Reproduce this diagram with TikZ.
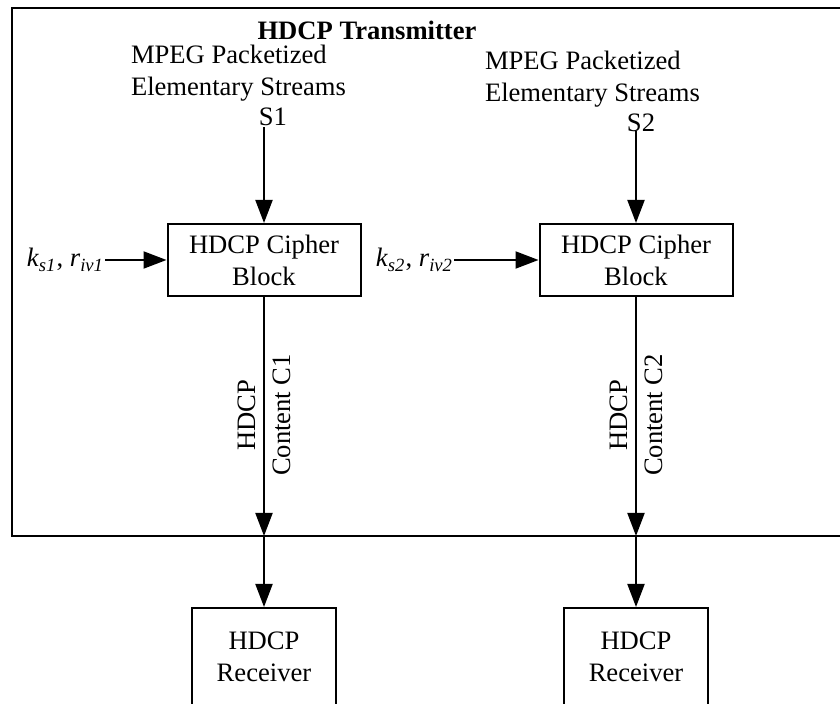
\documentclass[tikz,border=0pt]{standalone}
\usepackage{fontspec}
\setmainfont{Liberation Serif}
\usetikzlibrary{arrows.meta}
\begin{document}
\begin{tikzpicture}[>={Triangle[length=11.5pt,width=8.5pt]},x=0.5pt,y=-0.5pt,line width=1pt,
    every node/.style={font=\fontsize{13.3}{16}\selectfont,inner sep=0pt},
    cipherbox/.style={draw,align=center,minimum width=96.5pt,minimum height=36pt},
    rxbox/.style={draw,align=center,minimum width=72pt,minimum height=49pt},
    vlabel/.style={rotate=90,align=center,font=\fontsize{13.3}{17.5}\selectfont}]
    \useasboundingbox (0,0) rectangle (840,704);
    % transmitter frame, open to the right
    \draw (850,8) -- (12,8) -- (12,536) -- (850,536);
    \node[anchor=base,font=\fontsize{13.3}{16}\selectfont\bfseries] (title) at (367,40) {HDCP Transmitter};
    % stream 1
    \node[anchor=north west,align=left] (src1) at (130,44) {MPEG Packetized\\Elementary Streams};
    \node[anchor=base] (s1) at (273,126) {S1};
    \node[cipherbox] (cipher1) at (264,260) {HDCP Cipher\\Block};
    \node[anchor=east] (key1) at (105,260) {\textit{k}\textsubscript{\textit{s1}}, \textit{r}\textsubscript{\textit{iv1}}};
    \coordinate (exit1) at (264,536);
    \node[rxbox] (rx1) at (264,657) {HDCP\\Receiver};
    % stream 2
    \node[anchor=north west,align=left] (src2) at (484,50) {MPEG Packetized\\Elementary Streams};
    \node[anchor=base] (s2) at (641,132) {S2};
    \node[cipherbox] (cipher2) at (636,260) {HDCP Cipher\\Block};
    \node[anchor=east] (key2) at (454,260) {\textit{k}\textsubscript{\textit{s2}}, \textit{r}\textsubscript{\textit{iv2}}};
    \coordinate (exit2) at (636,536);
    \node[rxbox] (rx2) at (636,657) {HDCP\\Receiver};
    % connectors
    \draw[->] (s1.south -| cipher1.north) -- (cipher1.north);
    \draw[->] ([yshift=1pt]s2.south -| cipher2.north) -- (cipher2.north);
    \draw[->] (key1.east) -- (cipher1.west);
    \draw[->] (key2.east) -- (cipher2.west);
    \draw[->] (cipher1.south) -- (exit1);
    \draw[->] (cipher2.south) -- (exit2);
    \draw[->] (exit1) -- (rx1.north);
    \draw[->] (exit2) -- (rx2.north);
    \node[vlabel] (ct1) at (264,415) {HDCP\\Content C1};
    \node[vlabel] (ct2) at (636,415) {HDCP\\Content C2};
\end{tikzpicture}
\end{document}
